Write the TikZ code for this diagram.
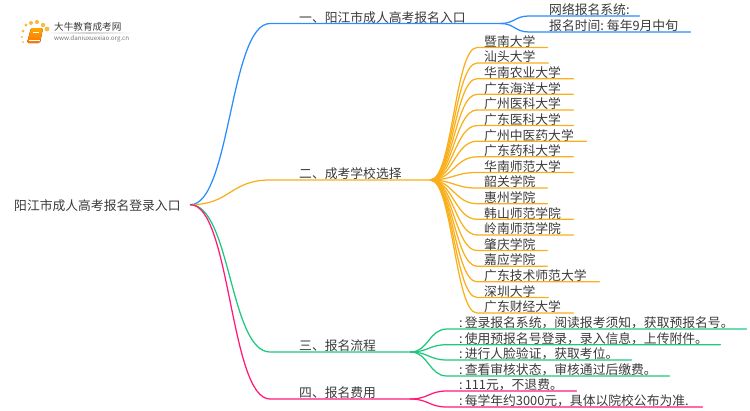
\documentclass[tikz,border=0pt]{standalone}
\usepackage{fontspec}
\setmainfont{Noto Sans CJK SC}
\usepackage{tikz}
\usetikzlibrary{positioning}

\definecolor{bluebranch}{HTML}{2A8CFF}
\definecolor{orangebranch}{HTML}{F9AF1B}
\definecolor{greenbranch}{HTML}{1FC77F}
\definecolor{pinkbranch}{HTML}{FF1A75}
\definecolor{labeltext}{HTML}{3A3A3A}

\begin{document}
\begin{tikzpicture}[
		x=1pt, y=-1pt,
		label/.style={
			anchor=south west,
			inner sep=0pt,
			text height=10pt,
			text depth=1pt,
			align=left,
			text=labeltext,
			font=\fontsize{12.8}{15}\selectfont
		},
		link/.style={
			line width=1.25pt,
			line cap=round
		},
		dot/.style={
			circle,
			inner sep=0pt,
			fill=orangebranch!85
		}
	]
	\useasboundingbox (0,0) rectangle (750,410);

	% logo
	\fill[left color=white, right color=white, middle color=black!18] (45,32.6) rectangle (133,33.4);
	\foreach \name/\px/\py/\size in {a/22/37/2.4, b/23/31/3, c/26/25/3.4, d/31/23/4, e/37/22/4.2, f/43/25/4.4, g/47/29/4.8, h/23/42/2}
		\node[dot, minimum size=\size pt] (dot\name) at (\px,\py) {};
	\fill[rounded corners=1.5pt, top color=orange!70!yellow, bottom color=orange!90!red] (31,28) -- (43,28) -- (40,43) -- (27,43) -- cycle;
	\draw[white, line width=0.6pt] (33,32) -- (39,32);
	\draw[white, line width=0.5pt] (28.5,40.5) -- (39.5,40.5);
	\node[anchor=west, inner sep=0pt, text=labeltext, font=\fontsize{9.6}{11}\selectfont] (logotitle) at (54,27) {大牛教育成考网};
	\node[anchor=west, inner sep=0pt, text=black!55, font=\fontsize{6.2}{8}\selectfont] (logourl) at (54,38.5) {www.daniuxuexiao.org.cn};

	% root and branches
	\node[label, anchor=west, text width=176pt, text height=12pt] (root) at (14,204.7) {\mbox{阳江市成人高考报名登录入口}};

	\node[label, text width=201pt] (one) at (299,23.5) {\mbox{一、阳江市成人高考报名入口}};
	\node[label, text width=131pt] (two) at (299,180) {\mbox{二、成考学校选择}};
	\node[label, text width=111pt] (three) at (299,352) {\mbox{三、报名流程}};
	\node[label, text width=111pt] (four) at (299,399) {\mbox{四、报名费用}};

	\draw[link, bluebranch] (root.east) .. controls +(40,0) and +(-40,0) .. ([xshift=-29pt]one.south west) -- (one.south east);
	\draw[link, orangebranch] (root.east) .. controls +(40,0) and +(-40,0) .. ([xshift=-29pt]two.south west) -- (two.south east);
	\draw[link, greenbranch] (root.east) .. controls +(40,0) and +(-40,0) .. ([xshift=-29pt]three.south west) -- (three.south east);
	\draw[link, pinkbranch] (root.east) .. controls +(40,0) and +(-40,0) .. ([xshift=-29pt]four.south west) -- (four.south east);

	% entry details
	\foreach \name/\ypos/\len/\txt in {
		system/16/90/网络报名系统:,
		period/32/141/报名时间:\hspace{3pt}每年9月中旬}
	{
		\node[label, text width=\len pt] (\name) at (549,\ypos) {\mbox{\txt}};
		\draw[link, bluebranch] (one.south east) .. controls +(14,0) and +(-14,0) .. ([xshift=-20pt]\name.south west) -- (\name.south east);
	}

	% schools
	\foreach \len/\txt [count=\i] in {
		63/暨南大学, 64/汕头大学, 89/华南农业大学, 89/广东海洋大学, 89/广州医科大学, 89/广东医科大学,
		102/广州中医药大学, 89/广东药科大学, 89/华南师范大学, 63/韶关学院, 63/惠州学院, 89/韩山师范学院,
		89/岭南师范学院, 63/肇庆学院, 63/嘉应学院, 115/广东技术师范大学, 64/深圳大学, 89/广东财经大学}
	{
		\pgfmathsetmacro{\ypos}{47.5+15.62*(\i-1)}
		\node[label, text width=\len pt] (school\i) at (484,\ypos) {\mbox{\txt}};
		\draw[link, orangebranch] (two.south east) .. controls +(22,0) and +(-22,0) .. ([xshift=-7pt]school\i.south west) -- (school\i.south east);
	}

	% process steps
	\foreach \name/\ypos/\len/\txt in {
		login/329/287/:\hspace{2pt}登录报名系统，阅读报考须知，获取预报名号。,
		upload/344.7/261/:\hspace{2pt}使用预报名号登录，录入信息，上传附件。,
		face/360/172/:\hspace{2pt}进行人脸验证，获取考位。,
		review/376/210/:\hspace{2pt}查看审核状态，审核通过后缴费。}
	{
		\node[label, text width=\len pt] (\name) at (459,\ypos) {\mbox{\txt}};
		\draw[link, greenbranch] (three.south east) .. controls +(18,0) and +(-18,0) .. ([xshift=-12pt]\name.south west) -- (\name.south east);
	}

	% fees
	\foreach \name/\ypos/\len/\txt in {
		fixed/391/117/:\hspace{2pt}111元，不退费。,
		yearly/407/243/:\hspace{2pt}每学年约3000元，具体以院校公布为准.}
	{
		\node[label, text width=\len pt] (\name) at (459,\ypos) {\mbox{\txt}};
		\draw[link, pinkbranch] (four.south east) .. controls +(18,0) and +(-18,0) .. ([xshift=-12pt]\name.south west) -- (\name.south east);
	}
\end{tikzpicture}
\end{document}
